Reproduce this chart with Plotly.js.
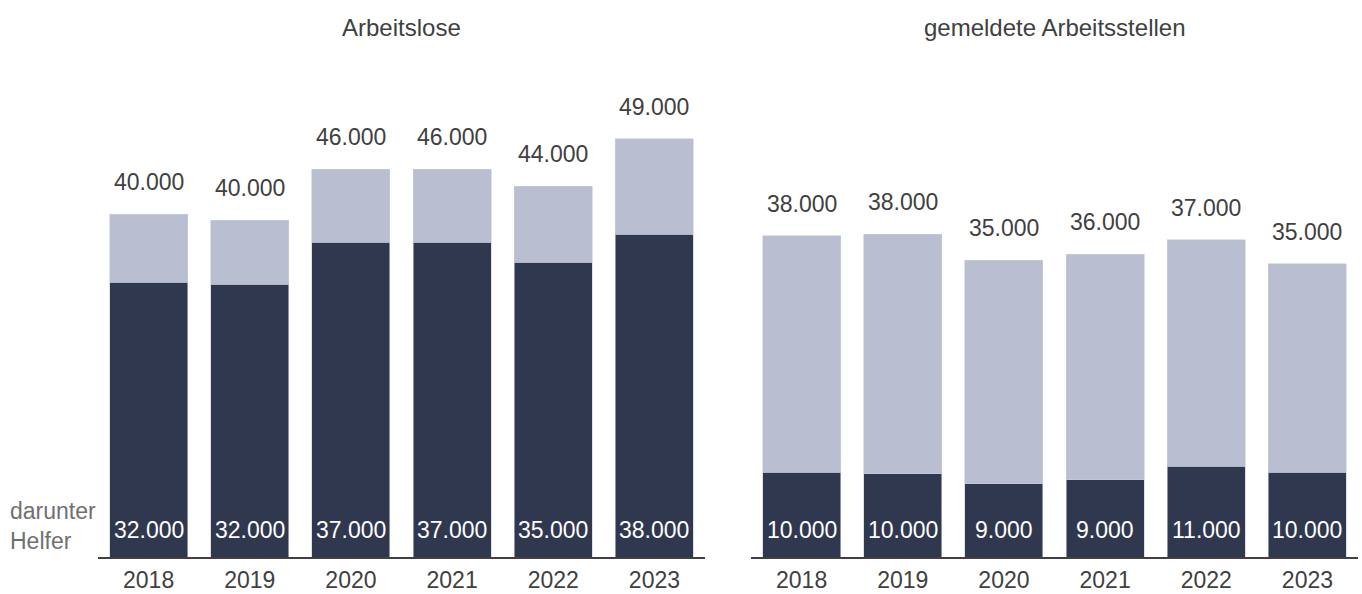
<!DOCTYPE html>
<html><head><meta charset="utf-8">
<script src="https://cdn.plot.ly/plotly-3.0.1.min.js"></script>
<style>html,body{margin:0;padding:0;background:#fff}#chart{width:1362px;height:594px}</style>
</head><body><div id="chart"></div>
<script>
const years = ['2018','2019','2020','2021','2022','2023'];
// Arbeitslose
const unemployedTotal = [40350, 39600, 45600, 45600, 43600, 49200];
const unemployedHelper = [32350, 32100, 37050, 37050, 34700, 38000];
// gemeldete Arbeitsstellen
const vacanciesTotal = [37800, 38000, 34900, 35600, 37300, 34500];
const vacanciesHelper = [10000, 9800, 8600, 9100, 10700, 10000];
const panelTitles = ['Arbeitslose', 'gemeldete Arbeitsstellen'];
const helperLabel = 'darunter<br>Helfer';

const DARK = '#2f384f', LIGHT = '#b9bfd1', TXT = '#404040';
const FONT = 'Liberation Sans, Arial, sans-serif';
const fmt = v => Math.round(v / 1000).toLocaleString('de-DE') + '.000';

function pair(total, helper, xa, ya) {
  return [
    {type:'bar', x:years, y:helper, xaxis:xa, yaxis:ya, marker:{color:DARK, line:{color:'#c8cdda', width:0.6}}, hoverinfo:'skip'},
    {type:'bar', x:years, y:total.map((t,i)=>t-helper[i]), xaxis:xa, yaxis:ya, marker:{color:LIGHT, line:{color:'#c8cdda', width:0.6}}, hoverinfo:'skip'}
  ];
}
const data = [...pair(unemployedTotal, unemployedHelper, 'x', 'y'), ...pair(vacanciesTotal, vacanciesHelper, 'x2', 'y2')];

const ann = [];
function labels(total, helper, xr, yr) {
  years.forEach((yr_, i) => {
    // category axis: position by category index
    ann.push({x:i, y:total[i], xref:xr, yref:yr, text:fmt(total[i]), showarrow:false, yanchor:'middle', yshift:32, font:{size:23, color:TXT, family:FONT}});
    ann.push({x:i, y:0, xref:xr, yref:yr, text:fmt(helper[i]), showarrow:false, yanchor:'middle', yshift:27, font:{size:23, color:'#ffffff', family:FONT}});
  });
}
labels(unemployedTotal, unemployedHelper, 'x', 'y');
labels(vacanciesTotal, vacanciesHelper, 'x2', 'y2');
ann.push({xref:'paper', yref:'paper', x:(98+705)/2/1362, y:1, xanchor:'center', yanchor:'middle', yshift:33, text:panelTitles[0], showarrow:false, font:{size:24, color:TXT, family:FONT}});
ann.push({xref:'paper', yref:'paper', x:(751+1358)/2/1362, y:1, xanchor:'center', yanchor:'middle', yshift:33, text:panelTitles[1], showarrow:false, font:{size:24, color:TXT, family:FONT}});
ann.push({xref:'paper', yref:'paper', x:8/1362, y:0, xanchor:'left', yanchor:'middle', yshift:31, text:helperLabel, align:'left', showarrow:false, font:{size:23, color:'#707070', family:FONT}});

const xax = (d, a) => ({domain:d, anchor:a, type:'category', range:[-0.5, years.length-0.5], showgrid:false, zeroline:false, showline:true, linecolor:'#404040', linewidth:1.5, ticks:'', ticklabelstandoff:2, tickfont:{size:23, color:TXT, family:FONT}, fixedrange:true});
const yax = {range:[0, 58470], showgrid:false, zeroline:false, showline:false, showticklabels:false, ticks:''};
const layout = {
  width:1362, height:594, margin:{l:0, r:0, t:60, b:37},
  paper_bgcolor:'#fff', plot_bgcolor:'#fff', barmode:'stack', bargap:0.23, showlegend:false,
  xaxis:xax([98/1362, 705/1362], 'y'), xaxis2:xax([751/1362, 1358/1362], 'y2'),
  yaxis:Object.assign({anchor:'x'}, yax), yaxis2:Object.assign({anchor:'x2'}, yax),
  annotations:ann, font:{family:FONT}
};
Plotly.newPlot('chart', data, layout, {staticPlot:true, displayModeBar:false});
</script></body></html>
